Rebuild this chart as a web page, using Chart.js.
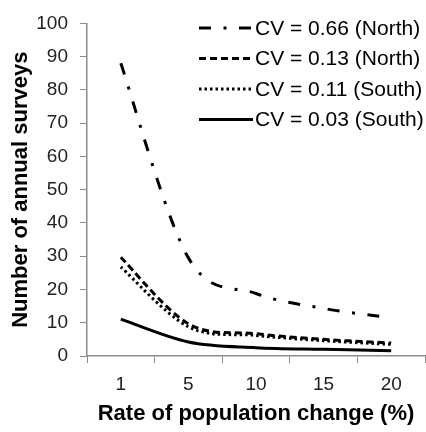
<!DOCTYPE html>
<html>
<head>
<meta charset="utf-8">
<script src="https://cdn.jsdelivr.net/npm/chart.js@4/dist/chart.umd.min.js"></script>
<style>
  html, body { margin: 0; padding: 0; background: #fff; }
  #wrap { width: 426px; height: 432px; }
</style>
</head>
<body>
<div id="wrap"><canvas id="chart" width="426" height="432"></canvas></div>
<script>
// rate of population change (%) categories
const rates = ['1', '5', '10', '15', '20'];

// number of annual surveys per series
const cvNorth066 = [88, 29.5, 18.8, 14.3, 11.5];
const cvNorth013 = [29.7, 9.7, 6.7, 5.0, 3.9];
const cvSouth011 = [26.8, 8.8, 6.2, 4.6, 3.5];
const cvSouth003 = [11.1, 4.2, 2.5, 2.0, 1.6];

const seriesNames = ['CV = 0.66 (North)', 'CV = 0.13 (North)', 'CV = 0.11 (South)', 'CV = 0.03 (South)'];
const yTicks = [0, 10, 20, 30, 40, 50, 60, 70, 80, 90, 100];

const axisGray = '#8c8c8c';
const font = 'Liberation Sans, Arial, sans-serif';

// Excel-like smoothing: catmull-rom control points from the scaled points
const smoothLines = {
  id: 'smoothLines',
  beforeDatasetsDraw(chart) {
    chart.getSortedVisibleDatasetMetas().forEach(meta => {
      const pts = meta.data;
      const n = pts.length;
      pts.forEach((p, i) => {
        const prev = pts[Math.max(i - 1, 0)];
        const next = pts[Math.min(i + 1, n - 1)];
        const dx = (next.x - prev.x) / 6;
        const dy = (next.y - prev.y) / 6;
        p.cp1x = p.x - dx; p.cp1y = p.y - dy;
        p.cp2x = p.x + dx; p.cp2y = p.y + dy;
      });
      meta.dataset._pointsUpdated = true;
      meta.dataset._path = undefined;
    });
  }
};

// legend drawn inside the plot area, top right
const innerLegend = {
  id: 'innerLegend',
  afterDraw(chart) {
    const ctx = chart.ctx;
    const x0 = 199, x1 = 253, tx = 255;
    chart.data.datasets.forEach((ds, i) => {
      const y = 28 + i * 30.5;
      ctx.save();
      ctx.strokeStyle = '#000';
      ctx.lineWidth = ds.borderWidth;
      ctx.lineCap = 'butt';
      ctx.setLineDash(ds.borderDash || []);
      ctx.beginPath();
      ctx.moveTo(x0, y);
      ctx.lineTo(x1, y);
      ctx.stroke();
      ctx.setLineDash([]);
      ctx.fillStyle = '#000';
      ctx.font = '21px ' + font;
      ctx.textBaseline = 'middle';
      ctx.fillText(ds.label, tx, y + 1);
      ctx.restore();
    });
  }
};

new Chart(document.getElementById('chart').getContext('2d'), {
  type: 'line',
  data: {
    labels: rates,
    datasets: [
      { label: seriesNames[0], data: cvNorth066, borderDash: [12, 12.5, 3, 12.5] },
      { label: seriesNames[1], data: cvNorth013, borderDash: [7, 4] },
      { label: seriesNames[2], data: cvSouth011, borderDash: [2.5, 3] },
      { label: seriesNames[3], data: cvSouth003, borderDash: [] }
    ].map(d => Object.assign(d, {
      borderColor: '#000',
      borderWidth: 3,
      pointRadius: 0,
      cubicInterpolationMode: 'monotone',
      fill: false
    }))
  },
  options: {
    responsive: false,
    animation: false,
    layout: { padding: { top: 16, right: 1, left: 0, bottom: 0 } },
    plugins: { legend: { display: false }, tooltip: { enabled: false } },
    scales: {
      x: {
        type: 'category',
        offset: true,
        grid: { offset: true, drawOnChartArea: false, tickLength: 7, color: axisGray },
        border: { color: axisGray, width: 1.5 },
        ticks: { color: '#222', font: { size: 19, family: font }, padding: 10 },
        title: {
          display: true,
          text: 'Rate of population change (%)',
          color: '#000',
          font: { size: 22, weight: 'bold', family: font },
          padding: { top: 0, bottom: 5 }
        },
        afterFit(axis) { axis.height = 76; }
      },
      y: {
        min: 0,
        max: 100,
        afterBuildTicks(axis) { axis.ticks = yTicks.map(v => ({ value: v })); },
        grid: { drawOnChartArea: false, tickLength: 7, color: axisGray },
        border: { color: axisGray, width: 1.5 },
        ticks: { color: '#222', font: { size: 19, family: font }, padding: 12 },
        title: {
          display: true,
          text: 'Number of annual surveys',
          color: '#000',
          font: { size: 22, weight: 'bold', family: font },
          padding: { top: 8, bottom: 0 }
        },
        afterFit(axis) { axis.width = 87; }
      }
    }
  },
  plugins: [smoothLines, innerLegend]
});
</script>
</body>
</html>
